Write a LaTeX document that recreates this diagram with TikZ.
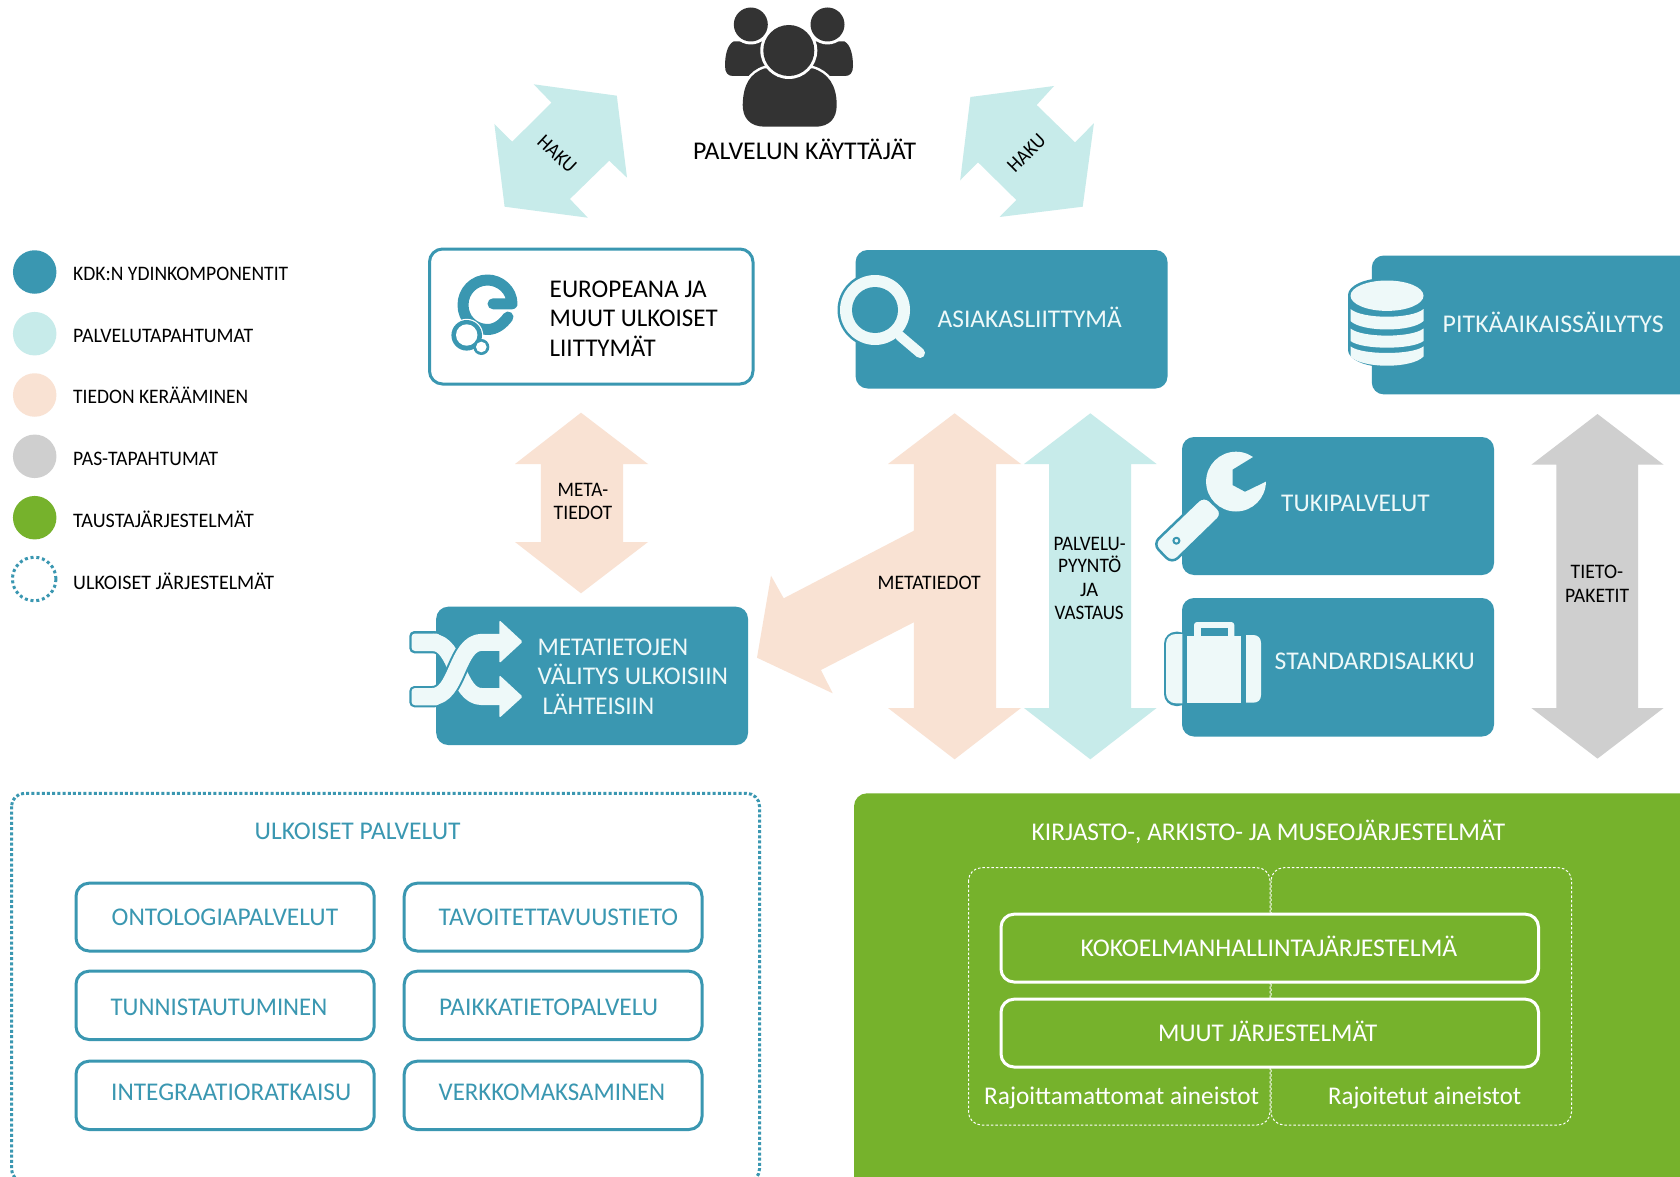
\documentclass[tikz,border=0pt]{standalone}
\usepackage{fontspec}
\setmainfont{Carlito}
\definecolor{kteal}{HTML}{3A97B1}
\definecolor{kcyan}{HTML}{C7EBEA}
\definecolor{kpeach}{HTML}{F9E2D3}
\definecolor{kgray}{HTML}{CFCFCF}
\definecolor{kgreen}{HTML}{76B22C}
\definecolor{klight}{HTML}{EEF9F9}
\definecolor{kdark}{HTML}{333333}
\tikzset{
  big/.style={font=\fontsize{25.5}{30}\selectfont,inner sep=0pt},
  small/.style={font=\fontsize{20.6}{24}\selectfont,inner sep=0pt},
  core/.style={fill=kteal,rounded corners=12pt},
  outbox/.style={draw=kteal,line width=3pt,fill=white,rounded corners=13pt},
  greenbox/.style={draw=white,line width=3pt,fill=kgreen,rounded corners=13pt},
  thindash/.style={draw=white,line width=1pt,dash pattern=on 2.5pt off 2pt,rounded corners=13pt},
  icon/.style={fill=klight,draw=kteal,line width=2.5pt},
  legendc/.style={circle,minimum size=43.5pt,inner sep=0pt}
}
% style, name, x, baseline y, width, text
\newcommand{\tl}[6]{\node[#1,anchor=base west] (#2) at (#3,#4) {\resizebox{#5pt}{\height}{#6}};}
\begin{document}
\begin{tikzpicture}[x=1pt,y=-1pt,line join=round]
\useasboundingbox (0,0) rectangle (1680,1177);
\clip (0,0) rectangle (1680,1177);
\fill[white] (0,0) rectangle (1680,1177);

% users
\fill[kdark] (733.5,41.5) .. controls (727,45) and (725,56) .. (725,66) .. controls (725,73) and (728,76) .. (733,76) -- (780,76) -- (780,41.5) -- cycle;
\fill[kdark] (844.5,41.5) .. controls (851,45) and (853,56) .. (853,66) .. controls (853,73) and (850,76) .. (845,76) -- (798,76) -- (798,41.5) -- cycle;
\fill[white] (750.8,24.5) circle (20);
\fill[white] (827.5,24.5) circle (20);
\fill[kdark] (750.8,24.5) circle (17);
\fill[kdark] (827.5,24.5) circle (17);
\draw[white,line width=5pt] (742.7,105) .. controls (743,85) and (750,73) .. (765,68.3) -- (812.5,68.3) .. controls (828,73) and (836.7,85) .. (836.7,105) .. controls (836.7,118) and (830,126.7) .. (815,126.7) -- (765,126.7) .. controls (750,126.7) and (742.7,118) .. (742.7,105) -- cycle;
\fill[kdark] (742.7,105) .. controls (743,85) and (750,73) .. (765,68.3) -- (812.5,68.3) .. controls (828,73) and (836.7,85) .. (836.7,105) .. controls (836.7,118) and (830,126.7) .. (815,126.7) -- (765,126.7) .. controls (750,126.7) and (742.7,118) .. (742.7,105) -- cycle;
\fill[white] (788.8,50.5) circle (28.5);
\fill[kdark] (788.8,50.5) circle (25.5);
\tl{big}{users}{693}{159.3}{223}{PALVELUN KÄYTTÄJÄT}

% haku arrows
\fill[kcyan] (533.7,84.3) -- (616.8,95.7) -- (627,177.7) -- (609.2,160.7) -- (569.9,199) -- (587.8,217.7) -- (504.6,206.7) -- (494.4,124) -- (512.2,141.7) -- (551.5,102.7) -- cycle;
\fill[kcyan] (1054,86) -- (970.4,97) -- (960.2,180.3) -- (978,162.3) -- (1016.3,200) -- (999.5,217) -- (1082.7,206.7) -- (1093.9,123.3) -- (1075,142.3) -- (1036.7,105) -- cycle;
\node[small,rotate=-43] (hakuL) at (557,154) {\resizebox{45pt}{\height}{HAKU}};
\node[small,rotate=45] (hakuR) at (1026.5,153) {\resizebox{45pt}{\height}{HAKU}};

% legend
\node[legendc,fill=kteal] (l1) at (34.7,272) {};
\node[legendc,fill=kcyan] (l2) at (34.7,333.7) {};
\node[legendc,fill=kpeach] (l3) at (34.7,395) {};
\node[legendc,fill=kgray] (l4) at (34.7,456.3) {};
\node[legendc,fill=kgreen] (l5) at (34.7,517.7) {};
\node[legendc,draw=kteal,line width=3pt,dash pattern=on 3pt off 2.8pt] (l6) at (34.2,579) {};
\tl{small}{t1}{73}{280}{215}{KDK:N YDINKOMPONENTIT}
\tl{small}{t2}{73}{342}{180}{PALVELUTAPAHTUMAT}
\tl{small}{t3}{73}{403.7}{175}{TIEDON KERÄÄMINEN}
\tl{small}{t4}{73}{465.4}{145}{PAS-TAPAHTUMAT}
\tl{small}{t5}{73}{527.5}{180.7}{TAUSTAJÄRJESTELMÄT}
\tl{small}{t6}{73}{589.2}{201}{ULKOISET JÄRJESTELMÄT}

% Europeana
\draw[outbox] (429.5,249) rectangle (753,384);
\draw[kteal,line width=11pt,line cap=round] (493,303.8) -- (512,303.8) .. controls (512,290) and (500,280) .. (487.5,280) .. controls (474,280) and (463,291) .. (463,305) .. controls (463,319) and (474,329.5) .. (487.5,329.5) .. controls (496,329.5) and (503,324) .. (508,317);
\fill[white] (466.7,335.3) circle (16.5);
\fill[kteal] (466.7,335.3) circle (15.3);
\fill[white] (466.7,335) circle (10.7);
\fill[kteal] (481.3,347) circle (8);
\fill[white] (481.3,347) circle (5.3);
\tl{big}{eu1}{549.5}{297}{157}{EUROPEANA JA}
\tl{big}{eu2}{549.5}{326.5}{168}{MUUT ULKOISET}
\tl{big}{eu3}{549.5}{356}{106}{LIITTYMÄT}

% Asiakasliittyma
\fill[core] (855.6,250) rectangle (1167.5,388.5);
\fill[kteal] (875,310) circle (37.5);
\fill[klight] (875,310) circle (35);
\fill[kteal] (875,310) circle (23);
\draw[klight,line width=10pt,line cap=round] (900,336) -- (920,353);
\tl{big,text=klight}{asi}{937.5}{327}{184}{ASIAKASLIITTYMÄ}

% Pitkaaikaissailytys
\fill[core] (1371.8,255.5) rectangle (1700,394.4);
\fill[kteal] (1386,295) ellipse (38 and 17);
\fill[kteal] (1348,295) rectangle (1424,350);
\fill[kteal] (1386,350) ellipse (38 and 17);
\fill[klight] (1387,295.7) ellipse (36.5 and 15.2);
\fill[klight] (1350.5,309) .. controls (1362,319.3) and (1412,319.3) .. (1423.5,309) -- (1423.5,321) .. controls (1412,332.3) and (1362,332.3) .. (1350.5,321) -- cycle;
\fill[klight] (1350.5,328.5) .. controls (1362,338) and (1412,338) .. (1423.5,328.5) -- (1423.5,341) .. controls (1412,349.9) and (1362,349.9) .. (1350.5,341) -- cycle;
\fill[klight] (1350.5,346.4) .. controls (1362,355.2) and (1412,355.2) .. (1423.5,346.4) -- (1423.5,356.5) .. controls (1412,368.8) and (1362,368.8) .. (1350.5,356.5) -- cycle;
\tl{big,text=klight}{pit}{1442.5}{332.5}{221}{PITKÄAIKAISSÄILYTYS}

% Big peach arrow with branch
\fill[kpeach] (954.6,413.3) -- (1021,464) -- (996,464) -- (996,708) -- (1021,708) -- (954.6,759.3) -- (888,708) -- (913.8,708) -- (913.8,622.3) -- (820.9,670) -- (832.7,693.3) -- (757,657.7) -- (771,575.7) -- (783.7,598.3) -- (913.8,530.7) -- (913.8,464) -- (888,464) -- cycle;
\tl{small}{meta}{877.5}{589}{103}{METATIEDOT}

% small peach arrow
\fill[kpeach] (581,412.7) -- (648,464) -- (623,464) -- (623,542) -- (648,542) -- (581,593.3) -- (515,542) -- (540.8,542) -- (540.8,464) -- (515,464) -- cycle;
\tl{small}{mt1}{557.5}{496}{50.5}{META-}
\tl{small}{mt2}{553.5}{519}{58.5}{TIEDOT}

% cyan arrow
\fill[kcyan] (1090.3,413.3) -- (1156.6,464) -- (1131,464) -- (1131,708) -- (1156.6,708) -- (1090.3,759.3) -- (1024,708) -- (1049,708) -- (1049,464) -- (1024,464) -- cycle;
\tl{small}{pv1}{1053.5}{550}{72}{PALVELU-}
\tl{small}{pv2}{1058}{572.7}{63}{PYYNTÖ}
\tl{small}{pv3}{1080}{596}{18}{JA}
\tl{small}{pv4}{1054.5}{619.4}{69}{VASTAUS}

% gray arrow
\fill[kgray] (1597.5,414) -- (1663.6,464.7) -- (1638,464.7) -- (1638,708) -- (1663.6,708) -- (1597.5,758.6) -- (1531.4,708) -- (1556.4,708) -- (1556.4,464.7) -- (1531.4,464.7) -- cycle;
\tl{small}{tp1}{1570.5}{578.7}{52.5}{TIETO-}
\tl{small}{tp2}{1565}{602}{64}{PAKETIT}

% Tukipalvelut
\fill[core] (1182,437) rectangle (1494,575);
\draw[icon,rounded corners=8pt] (1204,495) -- (1223.6,513.6) -- (1172,563.6) -- (1153,544) -- cycle;
\fill[klight] (1236,481.6) circle (29.9);
\fill[kteal] (1254,456.5) -- (1232.5,469.7) -- (1232.5,485) -- (1245,491.7) -- (1267,481) -- (1272,450) -- cycle;
\filldraw[fill=klight,draw=kteal,line width=2pt] (1176.4,540.7) circle (3);
\tl{big,text=klight}{tuk}{1281}{511.5}{148.5}{TUKIPALVELUT}

% Standardisalkku
\fill[core] (1182,598) rectangle (1494,736.5);
\fill[kteal,rounded corners=12pt] (1190,631.7) -- (1164,631.7) -- (1164,706) -- (1190,706) -- cycle;
\fill[klight] (1182.3,634) -- (1176,634) .. controls (1170,634) and (1166,638) .. (1166,644) -- (1166,693) .. controls (1166,699) and (1170,703.3) .. (1176,703.3) -- (1182.3,703.3) -- cycle;
\fill[klight,rounded corners=3pt] (1194,622) rectangle (1234.3,645);
\fill[kteal] (1201,628.3) rectangle (1227.7,636);
\fill[klight] (1187.3,636) rectangle (1241,702.7);
\fill[klight] (1246,635) -- (1253,635) .. controls (1258,635) and (1261,638) .. (1261,643) -- (1261,695) .. controls (1261,700) and (1258,702.7) .. (1253,702.7) -- (1246,702.7) -- cycle;
\tl{big,text=klight}{sta}{1274.5}{669.3}{200}{STANDARDISALKKU}

% Metatietojen valitys
\fill[core] (436.2,606.7) rectangle (748,745);
\fill[kteal,rounded corners=5pt] (409.3,631) rectangle (440,653.3);
\draw[kteal,line width=21pt] (432,642.3) .. controls (458,642.3) and (456,696.6) .. (482,696.6) -- (503,696.6);
\fill[klight,rounded corners=3.5pt] (411.5,633.5) rectangle (440,651);
\draw[klight,line width=17pt] (432,642.3) .. controls (458,642.3) and (456,696.6) .. (482,696.6) -- (503,696.6);
\fill[kteal,rounded corners=5pt] (409.3,686) rectangle (440,707.3);
\draw[kteal,line width=21pt] (432,696.6) .. controls (458,696.6) and (456,642.3) .. (482,642.3) -- (503,642.3);
\fill[klight,rounded corners=3.5pt] (411.5,688) rectangle (440,705.3);
\draw[klight,line width=17pt] (432,696.6) .. controls (458,696.6) and (456,642.3) .. (482,642.3) -- (503,642.3);
\fill[klight,rounded corners=1.5pt] (499.3,620) -- (522.7,641.7) -- (499.3,663.3) -- cycle;
\fill[klight,rounded corners=1.5pt] (499.3,675) -- (522.7,696.7) -- (499.3,718) -- cycle;
\tl{big,text=klight}{mv1}{537.5}{655.7}{150.5}{METATIETOJEN}
\tl{big,text=klight}{mv2}{537.5}{684.7}{190.5}{VÄLITYS ULKOISIIN}
\tl{big,text=klight}{mv3}{542.5}{714}{111.5}{LÄHTEISIIN}

% Ulkoiset palvelut
\draw[draw=kteal,line width=3pt,dash pattern=on 3pt off 2.2pt,rounded corners=13pt] (11.5,793.3) rectangle (759.5,1182);
\tl{big,text=kteal}{up}{254.5}{839}{206}{ULKOISET PALVELUT}
\draw[outbox] (76,883.2) rectangle (374.2,951);
\draw[outbox] (404.2,883.2) rectangle (702,951);
\draw[outbox] (76,971.2) rectangle (374.2,1039.5);
\draw[outbox] (404.2,971.2) rectangle (702,1039.5);
\draw[outbox] (76,1061.2) rectangle (374.2,1129.5);
\draw[outbox] (404.2,1061.2) rectangle (702,1129.5);
\tl{big,text=kteal}{u1}{111.5}{925.7}{226.5}{ONTOLOGIAPALVELUT}
\tl{big,text=kteal}{u2}{438.5}{925.7}{239.5}{TAVOITETTAVUUSTIETO}
\tl{big,text=kteal}{u3}{110.5}{1015.7}{216.5}{TUNNISTAUTUMINEN}
\tl{big,text=kteal}{u4}{439}{1015.7}{219}{PAIKKATIETOPALVELU}
\tl{big,text=kteal}{u5}{111}{1100.7}{240}{INTEGRAATIORATKAISU}
\tl{big,text=kteal}{u6}{438.5}{1100.7}{226.5}{VERKKOMAKSAMINEN}

% Kirjasto
\fill[kgreen,rounded corners=13pt] (854,793.3) rectangle (1720,1210);
\tl{big,text=white}{k0}{1031.5}{840}{473.5}{KIRJASTO-, ARKISTO- JA MUSEOJÄRJESTELMÄT}
\draw[thindash] (968.5,867.7) rectangle (1270,1125);
\draw[thindash] (1271,867.7) rectangle (1571.5,1125);
\draw[greenbox] (1001,914.2) rectangle (1538.5,982);
\draw[greenbox] (1001,999.2) rectangle (1538.5,1067);
\tl{big,text=white}{k1}{1080.5}{956.7}{376.5}{KOKOELMANHALLINTAJÄRJESTELMÄ}
\tl{big,text=white}{k2}{1158}{1041}{219}{MUUT JÄRJESTELMÄT}
\tl{big,text=white}{k3}{984}{1104}{275}{Rajoittamattomat aineistot}
\tl{big,text=white}{k4}{1328}{1104}{193}{Rajoitetut aineistot}
\end{tikzpicture}
\end{document}
